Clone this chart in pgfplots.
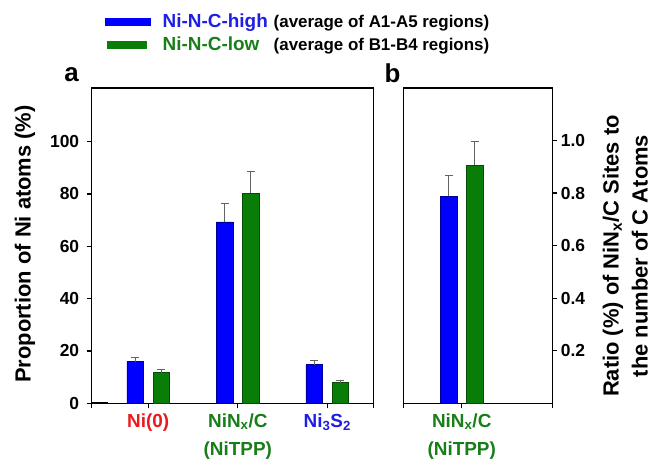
\documentclass[border=0pt]{standalone}
\usepackage{fontspec}
\setmainfont{Liberation Sans}
\usepackage{pgfplots}
\pgfplotsset{compat=1.18}
\definecolor{barblue}{RGB}{0,0,255}
\definecolor{bargreen}{RGB}{8,125,8}
\definecolor{txtred}{RGB}{235,25,30}
\definecolor{txtgreen}{RGB}{25,125,25}
\definecolor{txtblue}{RGB}{30,30,230}
\definecolor{errgray}{RGB}{100,100,100}
\begin{document}
\begin{tikzpicture}[x=1bp,y=1bp]
\useasboundingbox (0,0) rectangle (654,460);
\pgfplotsset{
  common/.style={
    scale only axis,
    height=315.3bp,
    ymin=0,
    axis line style={line width=1.3bp},
    tick style={line width=1.2bp, black},
    major tick length=5bp,
    tick align=outside,
    xtick pos=bottom,
    ybar, bar width=16.5bp,
    /pgf/number format/assume math mode=true,
    yticklabel style={font=\fontsize{17.5}{20}\selectfont\bfseries},
    xticklabel style={font=\fontsize{19}{29}\selectfont\bfseries, align=center, yshift=-1.5bp},
    extra x tick labels={},
  },
  errb/.style={error bars/.cd, y dir=plus, y explicit,
    error bar style={errgray, line width=1bp},
    error mark options={rotate=90, errgray, mark size=4bp, line width=1bp}},
  blueb/.style={fill=barblue, draw=barblue!60!black, line width=0.5bp, bar shift=-13.2bp, errb},
  greenb/.style={fill=bargreen, draw=bargreen!60!black, line width=0.5bp, bar shift=13.2bp, errb},
}
\begin{axis}[common,
  at={(91.7bp,56.7bp)}, anchor=south west, width=281.6bp,
  xmin=0.368, xmax=3.514, ymax=120.5,
  ytick={0,20,40,60,80,100}, ytick pos=left,
  yticklabel style={xshift=-4bp},
  xtick={1,2,3}, extra x ticks={0.368,3.514},
  xticklabels={{\color{txtred}Ni(0)},
    {\color{txtgreen}NiN\textsubscript{x}/C}\\{\color{txtgreen}(NiTPP)},
    {\color{txtblue}Ni\textsubscript{3}S\textsubscript{2}}},
  ylabel={Proportion of Ni atoms (\%)},
  ylabel style={font=\fontsize{22}{26}\selectfont\bfseries, at={(axis description cs:-0.237,0.505)}, anchor=center},
  legend style={at={(axis description cs:0.037,1.246)}, anchor=north west, draw=none, fill=none,
    font=\fontsize{17}{20}\selectfont\bfseries, row sep=6bp,
    nodes={inner sep=1bp},
    /tikz/every odd column/.append style={column sep=11bp}},
  legend cell align=left,
]
\addlegendimage{legend image code/.code={\fill[barblue] (0bp,-3.5bp) rectangle (45bp,3.5bp);}}
\addlegendentry{\makebox[111bp][l]{\color{txtblue}\fontsize{19}{22}\selectfont Ni-N-C-high}(average of A1-A5 regions)}
\addlegendimage{legend image code/.code={\fill[bargreen] (2bp,-3.5bp) rectangle (41bp,3.5bp);}}
\addlegendentry{\makebox[111bp][l]{\color{txtgreen}\fontsize{19}{22}\selectfont Ni-N-C-low}(average of B1-B4 regions)}
\addplot[blueb] coordinates {(1,15.9) +- (0,1.7) (2,69.3) +- (0,7.1) (3,14.8) +- (0,1.4)};
\addplot[greenb] coordinates {(1,11.7) +- (0,1.3) (2,80.3) +- (0,8.2) (3,7.9) +- (0,0.9)};
\addplot[black, line width=1bp, sharp plot, no markers] coordinates {(0.368,0.4) (0.55,0.4)};
\end{axis}
\begin{axis}[common,
  at={(403.3bp,56.7bp)}, anchor=south west, width=149bp,
  xmin=0.3475, xmax=2.012, ymax=1.2,
  ytick={0.2,0.4,0.6,0.8,1.0}, ytick pos=right, yticklabel pos=right,
  yticklabel style={/pgf/number format/fixed, /pgf/number format/fixed zerofill, /pgf/number format/precision=1},
  xtick={1}, extra x ticks={0.3475,2.012},
  xticklabels={{\color{txtgreen}NiN\textsubscript{x}/C}\\{\color{txtgreen}(NiTPP)}},
  ylabel={Ratio (\%) of NiN\textsubscript{x}/C Sites to\\the number of C Atoms},
  ylabel style={align=center, font=\fontsize{22}{29}\selectfont\bfseries, at={(axis description cs:1.49,0.467)}, anchor=center},
]
\addplot[blueb] coordinates {(1,0.788) +- (0,0.078)};
\addplot[greenb] coordinates {(1,0.907) +- (0,0.09)};
\end{axis}
\node at (71.5,385) {\fontsize{26}{30}\selectfont\bfseries a};
\node at (392.5,387) {\fontsize{26}{30}\selectfont\bfseries b};
\end{tikzpicture}
\end{document}
